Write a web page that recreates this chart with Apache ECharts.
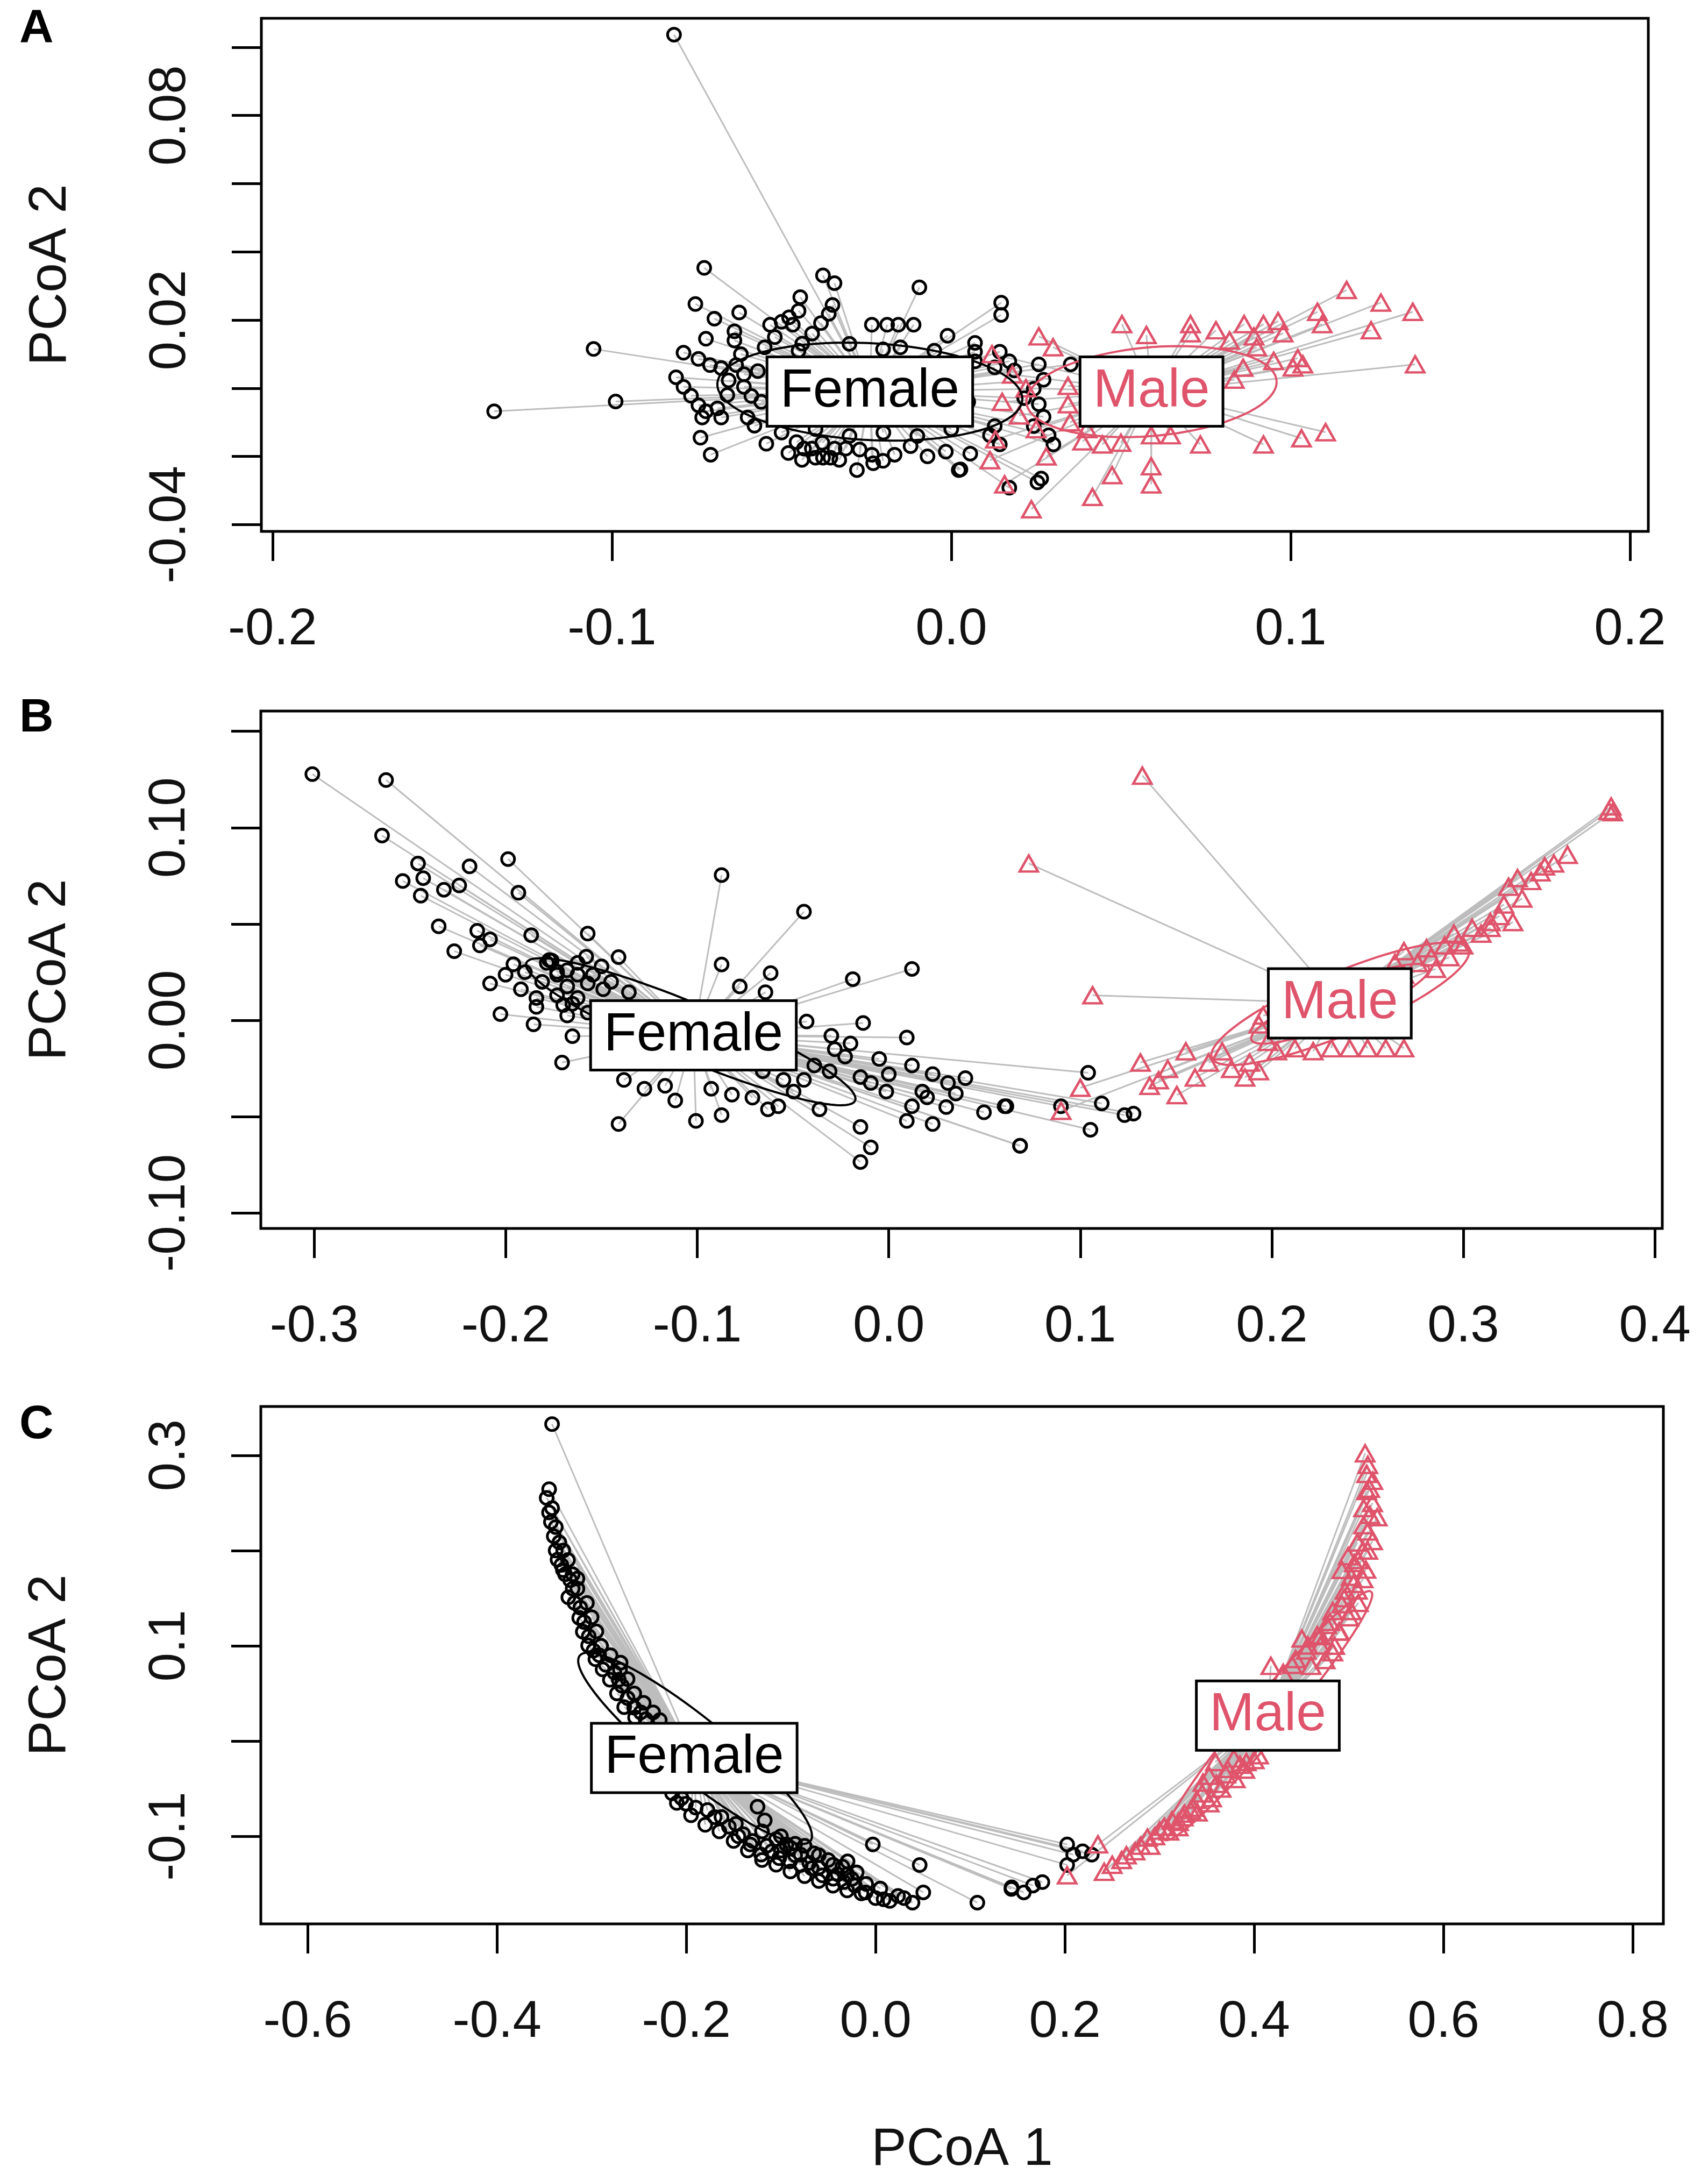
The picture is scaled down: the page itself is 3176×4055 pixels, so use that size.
<!DOCTYPE html>
<html>
<head>
<meta charset="utf-8">
<title>PCoA by sex</title>
<script src="https://cdn.jsdelivr.net/npm/echarts@6/dist/echarts.min.js"></script>
<style>
  html, body { margin: 0; padding: 0; background: #fff; }
  #chart { width: 3176px; height: 4055px; }
</style>
</head>
<body>
<div id="chart"></div>
<script>
// ---- data (PCoA 1, PCoA 2) ----
const femaleA = [[-0.0817,0.1037],[-0.0728,0.0353],[-0.1054,0.0115],[-0.1347,-0.0068],[-0.0989,-0.0039],
  [-0.0754,0.0247],[-0.0698,0.0204],[-0.0625,0.0222],[-0.0723,0.0145],[-0.0639,0.0167],[-0.0639,0.014],
  [-0.0789,0.0104],[-0.0745,0.0086],[-0.0711,0.0068],[-0.0678,0.0059],[-0.0634,0.0068],[-0.0611,0.0041],[-0.0656,0.0023],[-0.0611,0.0004],[-0.0589,-0.0023],
  [-0.0811,0.0032],[-0.0789,0.0004],[-0.0767,-0.0022],[-0.0745,-0.005],[-0.0723,-0.0068],[-0.0689,-0.0059],[-0.0678,-0.0086],[-0.0734,-0.0086],
  [-0.0739,-0.0145],[-0.0709,-0.0195],[-0.06,-0.0086],[-0.0545,-0.0163],
  [-0.0534,0.0186],[-0.05,0.0195],[-0.0478,0.0208],[-0.045,0.0227],[-0.0445,0.0267],[-0.0467,0.0186],
  [-0.0378,0.0331],[-0.0344,0.0308],[-0.035,0.0244],[-0.0361,0.0218],[-0.0384,0.0191],[-0.0439,0.0131],
  [-0.0234,0.0186],[-0.0189,0.0186],[-0.0156,0.0186],[-0.0111,0.0186],[-0.0094,0.0296],[-0.0201,0.0114],
  [-0.0456,-0.0158],[-0.0411,-0.0177],[-0.0378,-0.0204],[-0.0344,-0.0177],[-0.0311,-0.0177],[-0.0356,-0.0204],[-0.04,-0.0204],[-0.0434,-0.0177],
  [-0.0278,-0.024],[-0.0234,-0.0195],[-0.0201,-0.0213],[-0.0167,-0.0195],[-0.0016,-0.0186],[0.0022,-0.024],
  [0.0147,0.0251],[0.0147,0.0215],[-0.0011,0.0154],[0.007,0.0133],[0.007,0.0107],[0.007,0.0079],[0.0143,0.0107],[0.0171,0.0079],
  [0.0128,0.0061],[0.0186,0.0052],[0.0258,0.007],[0.0272,0.0025],[0.0243,-0.0002],[0.0215,-0.0029],[0.0258,-0.0047],[0.0272,-0.0084],
  [0.0243,-0.0111],[0.0287,-0.0138],[0.0301,-0.0165],[0.0128,-0.0111],[0.0114,-0.0138],[0.0143,-0.0165],[0.0056,-0.0192],[0.0027,-0.0238],
  [0.0171,-0.0292],[0.0265,-0.0265],[0.0352,0.007],[0.0254,-0.0276],
  [-0.055,0.012],[-0.045,0.011],[-0.03,0.013],[-0.015,0.012],[-0.005,0.011],
  [-0.05,-0.013],[-0.04,-0.012],[-0.03,-0.014],[-0.02,-0.013],[-0.01,-0.014],[0.0,-0.012],
  [-0.057,0.005],[-0.056,-0.004],[0.004,0.004],[0.005,-0.004],[0.003,-0.008],
  [-0.048,-0.019],[-0.044,-0.021],[-0.038,-0.016],[-0.033,-0.021],[-0.027,-0.018],[-0.023,-0.022],[-0.012,-0.017],[-0.007,-0.02],
  [-0.062,0.01],[-0.066,-0.002],[-0.058,-0.011],[-0.052,0.015],[-0.041,0.016]];
const maleA = [[0.0258,0.0152],[0.0503,0.0188],[0.0575,0.0156],[0.0705,0.0188],[0.0705,0.0161],[0.0863,0.0188],[0.092,0.0188],
  [0.0963,0.0197],[0.0978,0.0161],[0.0892,0.0152],[0.1079,0.0224],[0.1093,0.0188],[0.1165,0.0288],[0.1266,0.0251],[0.136,0.0224],
  [0.1237,0.017],[0.1367,0.007],[0.1021,0.0088],[0.1007,0.0061],[0.1036,0.007],[0.0834,0.0025],[0.1103,-0.0129],[0.1032,-0.0147],
  [0.092,-0.0165],[0.0734,-0.0165],[0.0589,-0.0138],[0.0646,-0.0138],[0.0387,-0.0156],[0.0445,-0.0165],[0.0474,-0.0255],
  [0.0589,-0.0229],[0.0589,-0.0282],[0.0416,-0.0319],[0.0236,-0.0355],[0.0114,-0.0211],[0.0157,-0.0282],[0.0344,0.0007],[0.0344,-0.0047],
  [0.012,0.01],[0.018,0.004],[0.022,0.0],[0.015,-0.004],[0.02,-0.008],[0.025,-0.012],[0.013,-0.015],[0.03,0.012],[0.035,-0.01],
  [0.028,-0.02],[0.04,-0.012],[0.05,-0.016],[0.078,0.017],[0.082,0.014],[0.09,0.012],[0.095,0.008],[0.086,0.006]];

const femaleB = [[-0.301,0.1278],[-0.2625,0.1247],[-0.2646,0.0959],[-0.2458,0.0814],[-0.2538,0.0723],[-0.2431,0.0738],[-0.2323,0.0678],
  [-0.2243,0.07],[-0.2444,0.0647],[-0.2189,0.0799],[-0.1988,0.0837],[-0.1934,0.0662],[-0.235,0.0488],[-0.2149,0.0465],[-0.2082,0.042],
  [-0.2135,0.0389],[-0.1867,0.0442],[-0.1572,0.045],[-0.2269,0.0359],[-0.196,0.0291],[-0.1773,0.0313],[-0.1411,0.0328],[-0.2082,0.0191],
  [-0.2001,0.0237],[-0.1921,0.0161],[-0.184,0.0116],[-0.1732,0.0237],[-0.1679,0.0176],[-0.1625,0.0237],[-0.1572,0.0191],[-0.1732,0.013],
  [-0.1625,0.0116],[-0.184,0.007],[-0.2028,0.0032],[-0.1855,-0.0021],[-0.1679,0.0025],[-0.1652,-0.0082],[-0.1706,-0.0219],
  [-0.0873,0.0754],[-0.0443,0.0564],[-0.0873,0.029],[-0.0617,0.0245],[-0.0778,0.0176],[-0.0644,0.0146],[-0.0188,0.0214],[0.0121,0.0267],
  [-0.0429,-0.0006],[-0.0134,-0.0014],[0.0094,-0.0089],
  [-0.0282,-0.015],[-0.0228,-0.0188],[-0.0389,-0.0234],[-0.0309,-0.0264],[-0.0148,-0.0294],[-0.0094,-0.0325],[-0.0013,-0.037],
  [0.0121,-0.0234],[0.0229,-0.0279],[0.0309,-0.0325],[0.0175,-0.037],[0.0121,-0.0446],[0.0094,-0.0522],[0.0229,-0.0538],
  [-0.0148,-0.0553],[-0.0094,-0.0659],[-0.0148,-0.0735],[0.0497,-0.0477],[0.0605,-0.0446],[0.0686,-0.0651],
  [-0.1383,-0.0309],[-0.1276,-0.0355],[-0.1168,-0.034],[-0.1115,-0.0416],[-0.1007,-0.0522],[-0.0873,-0.0492],[-0.1411,-0.0538],
  [-0.0927,-0.0355],[-0.0819,-0.0386],[-0.0712,-0.0401],[-0.0631,-0.0462],[-0.0577,-0.0446],[-0.0497,-0.037],[-0.0362,-0.0462],
  [-0.0443,-0.0309],[-0.055,-0.0309],[-0.0658,-0.0264],
  [-0.1786,0.0298],[-0.1732,0.0252],[-0.1625,0.0298],[-0.1545,0.0237],[-0.1491,0.0161],[-0.1652,0.0086],[-0.1572,0.004],[-0.1357,0.0146],
  [0.1041,-0.0272],[0.0614,-0.0446],[0.0899,-0.0446],[0.1112,-0.0431],[0.1231,-0.0492],[0.1278,-0.0484],[0.1053,-0.0568],[0.0685,-0.0651],
  [-0.03,-0.008],[-0.02,-0.012],[-0.005,-0.02],[0.0,-0.028],[0.02,-0.04],[0.035,-0.038],[0.04,-0.03],[0.03,-0.045],
  [-0.19,0.025],[-0.181,0.02],[-0.176,0.031],[-0.168,0.026],[-0.158,0.033],[-0.15,0.028],[-0.145,0.02],[-0.17,0.008]];
const maleB = [[0.1324,0.127],[0.0731,0.0814],[0.1064,0.013],[0.3772,0.111],[0.378,0.108],
  [0.1314,-0.0219],[0.1362,-0.034],[0.1457,-0.0252],[0.1551,-0.0161],[0.1599,-0.0297],[0.167,-0.0219],[0.1741,-0.0161],[0.1789,-0.0252],
  [0.1884,-0.0219],[0.186,-0.0297],[0.1504,-0.0388],[0.1409,-0.0311],[0.1932,-0.0264],[0.1979,-0.0112],
  [0.2026,-0.016],[0.2121,-0.0145],[0.2216,-0.016],[0.2311,-0.0145],[0.2406,-0.0145],[0.25,-0.0145],[0.2595,-0.0145],[0.269,-0.0145],
  [0.269,0.0359],[0.2761,0.0298],[0.2808,0.0374],[0.2856,0.0267],[0.2903,0.0389],[0.2951,0.045],[0.2998,0.0389],[0.3046,0.048],
  [0.3093,0.045],[0.3141,0.051],[0.3188,0.0541],[0.3236,0.0693],[0.3283,0.0738],[0.3259,0.051],[0.3307,0.0632],[0.3354,0.0723],
  [0.3402,0.0768],[0.3473,0.0814],[0.3544,0.0859],[0.3425,0.0799],[0.3212,0.0601],[0.3141,0.048],[0.2832,0.0328],[0.2927,0.0328],
  [0.2975,0.0404],[0.376,0.1087],[0.2643,0.0298],[0.269,0.0237],[0.1955,0.0025],[0.1932,-0.0021],[0.09,-0.047],[0.1,-0.035]];

const femaleC = [[-0.3418,0.3328],[-0.3449,0.2644],[-0.3475,0.2553],[-0.3418,0.2446],[-0.3379,0.2246],[-0.3341,0.2085],[-0.336,0.1905],
  [-0.3303,0.1796],[-0.3226,0.1689],[-0.315,0.1706],[-0.3246,0.1509],[-0.3131,0.1293],[-0.3093,0.1148],[-0.3037,0.1003],[-0.296,0.086],
  [-0.2884,0.0752],[-0.2807,0.0643],[-0.2694,0.0823],[-0.2713,0.0643],[-0.2732,0.0499],[-0.2656,0.0356],[-0.2541,0.0247],[-0.2428,0.0229],
  [-0.345,0.24],[-0.343,0.23],[-0.34,0.215],[-0.338,0.2],[-0.332,0.185],[-0.328,0.175],[-0.32,0.16],[-0.318,0.145],[-0.312,0.14],
  [-0.308,0.125],[-0.303,0.11],[-0.298,0.095],[-0.292,0.09],[-0.285,0.08],[-0.276,0.072],[-0.268,0.058],[-0.262,0.045],[-0.255,0.035],[-0.248,0.03],
  [-0.33,0.2],[-0.325,0.19],[-0.32,0.175],[-0.315,0.16],[-0.305,0.145],[-0.3,0.13],[-0.295,0.115],[-0.29,0.1],[-0.28,0.09],
  [-0.27,0.075],[-0.262,0.065],[-0.255,0.05],[-0.245,0.04],[-0.235,0.03],[-0.228,0.022],
  [-0.2004,-0.0658],[-0.1776,-0.0725],[-0.1628,-0.0798],[-0.1476,-0.0871],[-0.14,-0.0978],[-0.1324,-0.1086],[-0.1209,-0.1194],
  [-0.1096,-0.1158],[-0.1019,-0.1231],[-0.0904,-0.1265],[-0.0791,-0.1302],[-0.0676,-0.1337],[-0.0562,-0.1411],[-0.0449,-0.1446],
  [-0.0334,-0.1482],[-0.0219,-0.1518],[-0.0106,-0.159],[0.0085,-0.1662],[0.0237,-0.1627],[0.039,-0.1698],[0.0504,-0.159],
  [-0.0029,-0.1086],[-0.0296,-0.1265],[0.0466,-0.1302],[0.1437,-0.1537],[0.1075,-0.1698],[-0.1247,-0.069],[-0.1171,-0.0834],
  [-0.0943,-0.1086],[-0.0791,-0.1194],
  [-0.215,-0.055],[-0.205,-0.06],[-0.19,-0.07],[-0.17,-0.08],[-0.155,-0.09],[-0.145,-0.1],[-0.13,-0.105],[-0.115,-0.11],[-0.1,-0.115],
  [-0.085,-0.12],[-0.07,-0.128],[-0.06,-0.133],[-0.04,-0.14],[-0.025,-0.145],[-0.01,-0.15],[0.005,-0.155],[-0.1,-0.1],[-0.085,-0.108],
  [-0.065,-0.118],[-0.05,-0.125],[-0.035,-0.132],[-0.02,-0.138],
  [-0.21,-0.065],[-0.195,-0.078],[-0.18,-0.088],[-0.165,-0.095],[-0.15,-0.105],[-0.135,-0.115],[-0.12,-0.125],[-0.105,-0.13],
  [-0.09,-0.137],[-0.075,-0.142],[-0.06,-0.147],[-0.045,-0.152],[-0.03,-0.157],[-0.015,-0.16],[0.0,-0.165],[0.015,-0.168],[0.03,-0.165],
  [-0.12,-0.095],[-0.105,-0.103],[-0.09,-0.112],[-0.075,-0.11],[-0.06,-0.12],[-0.045,-0.13],[-0.03,-0.14],
  [0.2024,-0.1086],[0.2088,-0.1194],[0.2187,-0.1158],[0.2284,-0.1194],[0.2024,-0.1302],[0.1435,-0.1554],[0.1566,-0.159],
  [0.1663,-0.1518],[0.1762,-0.1482]];
const maleC = [[0.2024,-0.1411],[0.2415,-0.1374],[0.2349,-0.1086],[0.2741,-0.1158],[0.2872,-0.1015],[0.3001,-0.0941],[0.3132,-0.0834],
  [0.3263,-0.0762],[0.3197,-0.0905],[0.3394,-0.0617],[0.3459,-0.0438],[0.3524,-0.0366],[0.359,-0.0221],[0.3719,-0.0293],[0.3785,-0.0184],
  [0.3916,-0.0221],[0.4046,-0.0149],[0.3524,-0.0654],[0.3328,-0.0725],[0.4307,0.0715],[0.4438,0.086],[0.4568,0.1003],[0.4666,0.1111],
  [0.4765,0.1219],[0.483,0.1365],[0.4926,0.1436],[0.496,0.158],[0.5025,0.1725],[0.5057,0.1868],[0.509,0.2085],[0.5156,0.2266],
  [0.5156,0.2446],[0.5188,0.2626],[0.5188,0.2805],[0.5172,0.3021],[0.4601,0.0789],[0.483,0.0932],[0.4894,0.1148],[0.5025,0.1365],
  [0.509,0.158],[0.4926,0.1796],[0.4993,0.1941],[0.5221,0.2374],[0.5253,0.2733],[0.4503,0.1076],[0.4699,0.1003],[0.4176,0.0789],
  [0.26,-0.125],[0.28,-0.11],[0.295,-0.1],[0.305,-0.09],[0.325,-0.08],[0.335,-0.07],[0.345,-0.055],[0.36,-0.045],[0.37,-0.035],[0.385,-0.025],
  [0.44,0.08],[0.455,0.095],[0.47,0.11],[0.48,0.125],[0.495,0.15],[0.505,0.165],[0.51,0.19],[0.515,0.2],[0.52,0.22],[0.525,0.25],[0.522,0.265],[0.52,0.29],
  [0.25,-0.13],[0.265,-0.12],[0.29,-0.11],[0.31,-0.095],[0.32,-0.085],[0.34,-0.075],[0.355,-0.06],[0.365,-0.05],[0.38,-0.04],
  [0.39,-0.03],[0.4,-0.02],[0.475,0.085],[0.485,0.1],[0.49,0.115],[0.5,0.13],[0.51,0.145],[0.515,0.17],[0.518,0.18],[0.52,0.2],
  [0.525,0.21],[0.53,0.235]];

// group centroids (where the spider lines meet and the labels sit): [female, male]
const centroidsA = [[-0.024, -0.001], [0.059, -0.001]];
const centroidsB = [[-0.102, -0.0078], [0.2355, 0.0088]];
const centroidsC = [[-0.1916, -0.0178], [0.4144, 0.0266]];

// ellipses: [centre x, centre y, semi axis a, semi axis b, angle in degrees]
const femaleEllipsesA = [[-0.024, -0.001, 0.045, 0.0142, -3]];
const maleEllipsesA = [[0.059, -0.001, 0.037, 0.013, 5]];
const femaleEllipsesB = [[-0.1034, -0.0059, 0.093, 0.0145, -22.6]];
const maleEllipsesB = [[0.2357, 0.0086, 0.0727, 0.016, 22.8], [0.2357, 0.0086, 0.05, 0.0095, 22]];
const femaleEllipsesC = [[-0.1907, -0.0077, 0.156, 0.032, -38.6]];
const maleEllipsesC = [[0.4144, 0.0266, 0.17, 0.02, 50]];

// ticks and labels
const xTicksA = [-0.2, -0.1, 0, 0.1, 0.2];
const yTicksA = [-0.04, -0.02, 0, 0.02, 0.04, 0.06, 0.08, 0.10];
const yLabelsA = [-0.04, 0.02, 0.08];
const xTicksB = [-0.3, -0.2, -0.1, 0, 0.1, 0.2, 0.3, 0.4];
const yTicksB = [-0.10, -0.05, 0, 0.05, 0.10, 0.15];
const yLabelsB = [-0.10, 0, 0.10];
const xTicksC = [-0.6, -0.4, -0.2, 0, 0.2, 0.4, 0.6, 0.8];
const yTicksC = [-0.1, 0, 0.1, 0.2, 0.3];
const yLabelsC = [-0.1, 0.1, 0.3];

const groupNames = ['Female', 'Male'];
const panelLetters = ['A', 'B', 'C'];

const BLACK = '#000'
const PINK = '#DF536B'
const GREY = '#bdbdbd'
const FONT = '"Liberation Sans", Arial, Helvetica, sans-serif'

const chart = echarts.init(document.getElementById('chart'), null, { renderer: 'canvas' })

const grids = [
  { left: 486, top: 34, width: 2579, height: 954 },
  { left: 485, top: 1322, width: 2606, height: 962 },
  { left: 485, top: 2615, width: 2608, height: 962 }
].map(g => Object.assign({ show: true, borderColor: BLACK, borderWidth: 5, backgroundColor: 'transparent' }, g))

function xAxisFor(i, min, max, ticks, digits, name) {
  return {
    type: 'value', gridIndex: i, min, max,
    splitLine: { show: false },
    axisLine: { show: false, onZero: false },
    axisTick: { show: true, inside: false, length: 55, customValues: ticks, lineStyle: { color: BLACK, width: 5 } },
    axisLabel: { show: true, customValues: ticks, margin: 136, fontSize: 96, fontFamily: FONT, color: '#111',
      formatter: v => v.toFixed(digits) },
    name: name || '', nameLocation: 'middle', nameGap: 372,
    nameTextStyle: { fontSize: 98, fontFamily: FONT, color: '#111' }
  }
}
function yAxisFor(i, min, max, ticks, labels, digits) {
  return {
    type: 'value', gridIndex: i, min, max,
    splitLine: { show: false },
    axisLine: { show: false, onZero: false },
    axisTick: { show: true, inside: false, length: 55, customValues: ticks, lineStyle: { color: BLACK, width: 5 } },
    axisLabel: { show: true, customValues: labels, rotate: 90, margin: 120, fontSize: 96, fontFamily: FONT, color: '#111',
      formatter: v => v.toFixed(digits) },
    name: 'PCoA 2', nameLocation: 'middle', nameRotate: 90, nameGap: 342,
    nameTextStyle: { fontSize: 98, fontFamily: FONT, color: '#111' }
  }
}

function spider(points, centre, i) {
  return {
    type: 'lines', coordinateSystem: 'cartesian2d', xAxisIndex: i, yAxisIndex: i,
    silent: true, z: 1, animation: false,
    lineStyle: { color: GREY, width: 3, opacity: 1 },
    data: points.map(p => ({ coords: [p, centre] }))
  }
}
function dots(points, i, colour, symbol) {
  const tri = symbol === 'triangle'
  return {
    type: 'scatter', xAxisIndex: i, yAxisIndex: i, z: 2, silent: true,
    symbol, symbolSize: tri ? [34, 30] : 24,
    itemStyle: { color: 'rgba(0,0,0,0)', borderColor: colour, borderWidth: tri ? 4.5 : 5, opacity: 1 },
    data: points
  }
}
function ellipses(list, i, colour) {
  return {
    type: 'custom', xAxisIndex: i, yAxisIndex: i, z: 3, silent: true, clip: true,
    data: list,
    renderItem: (params, api) => {
      const cx = api.value(0), cy = api.value(1), a = api.value(2), b = api.value(3)
      const t = api.value(4) * Math.PI / 180
      const pts = []
      for (let k = 0; k <= 90; k++) {
        const u = k / 90 * Math.PI * 2
        const ex = a * Math.cos(u), ey = b * Math.sin(u)
        pts.push(api.coord([cx + ex * Math.cos(t) - ey * Math.sin(t), cy + ex * Math.sin(t) + ey * Math.cos(t)]))
      }
      return { type: 'polyline', shape: { points: pts }, style: { fill: null, stroke: colour, lineWidth: 4 } }
    }
  }
}
function groupLabel(centre, i, text, colour) {
  return {
    type: 'scatter', xAxisIndex: i, yAxisIndex: i, z: 10, silent: true,
    symbolSize: 1, itemStyle: { color: 'rgba(0,0,0,0)', opacity: 1 },
    data: [centre],
    label: {
      show: true, position: 'inside', formatter: text, opacity: 1,
      fontSize: 100, fontFamily: FONT, color: colour,
      backgroundColor: '#ffffff', borderColor: BLACK, borderWidth: 5,
      padding: [14, 22, 10, 22]
    }
  }
}

const panels = [
  { f: femaleA, m: maleA, c: centroidsA, fe: femaleEllipsesA, me: maleEllipsesA },
  { f: femaleB, m: maleB, c: centroidsB, fe: femaleEllipsesB, me: maleEllipsesB },
  { f: femaleC, m: maleC, c: centroidsC, fe: femaleEllipsesC, me: maleEllipsesC }
]

const series = []
panels.forEach((p, i) => {
  series.push(spider(p.f, p.c[0], i))
  series.push(spider(p.m, p.c[1], i))
  series.push(dots(p.f, i, BLACK, 'circle'))
  series.push(dots(p.m, i, PINK, 'triangle'))
  series.push(ellipses(p.fe, i, BLACK))
  series.push(ellipses(p.me, i, PINK))
  series.push(groupLabel(p.c[0], i, groupNames[0], BLACK))
  series.push(groupLabel(p.c[1], i, groupNames[1], PINK))
})

// panel letters, placed beside each box
const letterTops = [10, 1292, 2606]
const graphic = panelLetters.map((t, i) => ({
  type: 'text', left: 36, top: letterTops[i],
  style: { text: t, fontSize: 88, fontWeight: 'bold', fontFamily: FONT, fill: BLACK }
}))

chart.setOption({
  animation: false,
  backgroundColor: '#fff',
  grid: grids,
  xAxis: [
    xAxisFor(0, -0.2033, 0.2054, xTicksA, 1),
    xAxisFor(1, -0.3279, 0.4039, xTicksB, 1),
    xAxisFor(2, -0.6495, 0.8323, xTicksC, 1, 'PCoA 1')
  ],
  yAxis: [
    yAxisFor(0, -0.0420, 0.1085, yTicksA, yLabelsA, 2),
    yAxisFor(1, -0.108, 0.1605, yTicksB, yLabelsB, 2),
    yAxisFor(2, -0.1921, 0.3513, yTicksC, yLabelsC, 1)
  ],
  graphic,
  series
})
</script>
</body>
</html>
